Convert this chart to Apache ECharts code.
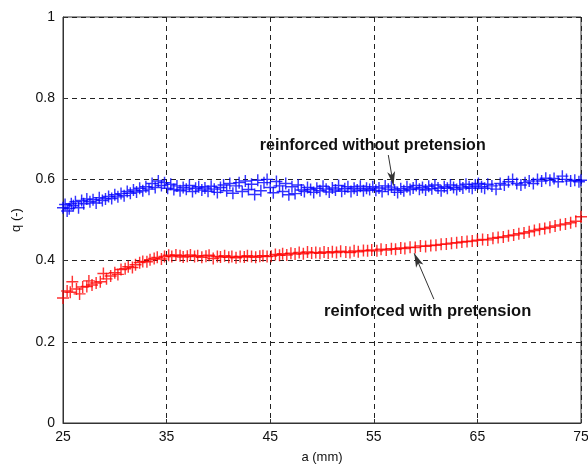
<!DOCTYPE html>
<html>
<head>
<meta charset="utf-8">
<script src="https://cdn.jsdelivr.net/npm/echarts@6/dist/echarts.min.js"></script>
<style>html,body{margin:0;padding:0;background:#fff}#c{width:588px;height:464px}</style>
</head>
<body>
<div id="c"></div>
<script>
// reinforced with pretension (red)
var redX = [25.0,25.4,25.7,25.9,26.3,26.6,26.9,27.3,27.5,27.8,28.2,28.6,28.9,29.2,29.6,30.0,30.3,30.6,31.0,31.3,31.7,32.0,32.4,32.7,33.1,33.4,33.8,34.1,34.5,34.8,35.2,35.5,35.9,36.3,36.6,37.0,37.3,37.7,38.0,38.4,38.8,39.1,39.5,39.9,40.2,40.6,41.0,41.3,41.7,42.1,42.5,42.8,43.2,43.6,44.0,44.3,44.7,45.1,45.5,45.9,46.2,46.6,47.0,47.4,47.8,48.2,48.6,49.0,49.4,49.8,50.2,50.6,51.0,51.4,51.8,52.3,52.7,53.1,53.5,54.0,54.4,54.8,55.3,55.7,56.2,56.7,57.1,57.6,58.0,58.5,59.0,59.5,60.0,60.5,61.0,61.5,62.0,62.5,63.0,63.5,64.0,64.5,65.0,65.5,66.0,66.5,67.0,67.5,68.0,68.5,69.0,69.5,70.0,70.5,71.0,71.5,72.0,72.5,73.0,73.5,74.0,74.5,75.0];
var redY = [0.308,0.325,0.322,0.348,0.330,0.318,0.335,0.336,0.350,0.340,0.345,0.348,0.368,0.355,0.362,0.370,0.366,0.378,0.380,0.385,0.383,0.390,0.395,0.398,0.397,0.402,0.405,0.408,0.404,0.410,0.413,0.410,0.414,0.412,0.409,0.411,0.414,0.410,0.412,0.408,0.411,0.413,0.405,0.410,0.409,0.412,0.408,0.410,0.407,0.410,0.409,0.412,0.410,0.408,0.411,0.412,0.410,0.411,0.415,0.413,0.417,0.414,0.418,0.416,0.420,0.417,0.421,0.419,0.420,0.418,0.421,0.419,0.422,0.420,0.423,0.421,0.420,0.424,0.422,0.425,0.424,0.426,0.424,0.428,0.426,0.429,0.428,0.431,0.430,0.433,0.432,0.436,0.435,0.437,0.438,0.440,0.441,0.443,0.444,0.446,0.447,0.448,0.450,0.452,0.451,0.455,0.457,0.458,0.461,0.463,0.466,0.468,0.471,0.474,0.477,0.479,0.482,0.485,0.488,0.490,0.493,0.497,0.508];
// reinforced without pretension (blue)
var blueX = [25.0,25.2,25.4,25.6,25.8,26.0,26.2,26.5,26.8,27.0,27.3,27.6,27.9,28.2,28.5,28.8,29.1,29.4,29.7,30.0,30.3,30.6,30.9,31.2,31.5,31.8,32.1,32.4,32.7,33.0,33.3,33.6,33.9,34.2,34.5,34.8,35.1,35.4,35.7,36.0,36.3,36.6,36.9,37.2,37.5,37.8,38.1,38.4,38.7,39.0,39.3,39.6,39.9,40.2,40.5,40.8,41.1,41.4,41.7,42.0,42.3,42.6,42.9,43.2,43.5,43.8,44.1,44.4,44.7,45.0,45.3,45.6,45.9,46.2,46.5,46.8,47.1,47.4,47.7,48.0,48.3,48.6,48.9,49.2,49.5,49.8,50.1,50.4,50.7,51.0,51.3,51.6,51.9,52.2,52.5,52.8,53.1,53.4,53.7,54.0,54.3,54.6,54.9,55.2,55.5,55.8,56.1,56.4,56.7,57.0,57.3,57.6,57.9,58.2,58.5,58.8,59.1,59.4,59.7,60.0,60.3,60.6,60.9,61.2,61.5,61.8,62.1,62.4,62.7,63.0,63.3,63.6,63.9,64.2,64.5,64.8,65.1,65.4,65.7,66.0,66.4,66.8,67.2,67.6,68.0,68.4,68.8,69.2,69.6,70.0,70.4,70.8,71.2,71.6,72.0,72.4,72.8,73.2,73.6,74.0,74.4,74.8,75.0];
var blueY = [0.530,0.538,0.522,0.528,0.540,0.535,0.545,0.530,0.548,0.540,0.552,0.545,0.550,0.542,0.555,0.548,0.552,0.558,0.553,0.562,0.557,0.565,0.560,0.570,0.566,0.574,0.569,0.578,0.572,0.582,0.576,0.590,0.580,0.596,0.585,0.592,0.578,0.588,0.575,0.584,0.572,0.580,0.576,0.585,0.570,0.578,0.582,0.574,0.579,0.571,0.583,0.576,0.568,0.580,0.586,0.572,0.590,0.566,0.584,0.592,0.570,0.596,0.575,0.588,0.563,0.598,0.572,0.592,0.600,0.580,0.567,0.595,0.584,0.570,0.590,0.562,0.582,0.565,0.586,0.574,0.570,0.580,0.575,0.568,0.578,0.572,0.583,0.576,0.569,0.579,0.574,0.585,0.571,0.577,0.582,0.570,0.578,0.574,0.583,0.572,0.578,0.575,0.582,0.573,0.579,0.570,0.584,0.576,0.581,0.574,0.568,0.577,0.572,0.582,0.575,0.579,0.585,0.576,0.580,0.574,0.583,0.577,0.586,0.579,0.572,0.582,0.578,0.586,0.580,0.575,0.584,0.579,0.588,0.582,0.578,0.586,0.590,0.582,0.578,0.588,0.584,0.576,0.590,0.586,0.594,0.600,0.590,0.586,0.592,0.596,0.590,0.600,0.596,0.603,0.598,0.602,0.594,0.608,0.600,0.596,0.598,0.594,0.598];

// annotations (data coordinates)
var noteBlueText = 'reinforced without pretension';
var noteBlueAt = [54.9, 0.683];
var arrowBlue = [[56.4, 0.660], [56.9, 0.585]];
var noteRedText = 'reinforced with pretension';
var noteRedAt = [60.2, 0.275];
var arrowRed = [[60.8, 0.305], [58.9, 0.418]];

function pairs(xs, ys) { return xs.map(function (x, i) { return [x, ys[i]]; }); }

var plus = 'path://M0,4.4H10V5.6H0Z M4.4,0H5.6V10H4.4Z';
var font = '"Liberation Sans", Arial, sans-serif';

var chart = echarts.init(document.getElementById('c'));
var axisCommon = {
  axisLine: { show: true, lineStyle: { color: '#333', width: 1 } },
  axisTick: { show: true, inside: true, length: 4, lineStyle: { color: '#333' } },
  splitLine: { show: true, lineStyle: { color: '#222', type: [5, 4], width: 1 } },
  axisLabel: { color: '#111', fontSize: 14, fontFamily: font },
  nameTextStyle: { color: '#111', fontSize: 13, fontFamily: font }
};
function noteLabel(txt, size) {
  return { show: true, position: 'inside', color: '#111', fontSize: size, fontWeight: 'bold', fontFamily: font, formatter: txt };
}
chart.setOption({
  animation: false,
  backgroundColor: '#fff',
  grid: { left: 63, right: 7, top: 17, bottom: 41, show: true, borderColor: '#333', borderWidth: 1, backgroundColor: 'transparent', containLabel: false, outerBoundsMode: 'none' },
  xAxis: Object.assign({}, axisCommon, {
    type: 'value', min: 25, max: 75, interval: 10,
    name: 'a (mm)', nameLocation: 'middle', nameGap: 28,
    axisLabel: Object.assign({}, axisCommon.axisLabel, { margin: 7 })
  }),
  yAxis: Object.assign({}, axisCommon, {
    type: 'value', min: 0, max: 1, interval: 0.2,
    name: 'q (-)', nameLocation: 'middle', nameGap: 40,
    axisLabel: Object.assign({}, axisCommon.axisLabel, { margin: 8 })
  }),
  series: [
    {
      type: 'scatter', name: 'without', data: pairs(blueX, blueY),
      symbol: plus, symbolSize: 12,
      itemStyle: { color: '#0000ff', opacity: 0.8 },
      markPoint: {
        symbol: 'rect', symbolSize: 1, silent: true,
        itemStyle: { color: 'rgba(255,255,255,0)' },
        label: noteLabel(noteBlueText, 16),
        data: [{ coord: noteBlueAt }]
      },
      markLine: {
        silent: true, symbol: ['none', 'arrow'], symbolSize: [6, 14],
        lineStyle: { color: '#333', width: 1, type: 'solid' },
        label: { show: false },
        data: [[{ coord: arrowBlue[0] }, { coord: arrowBlue[1] }]]
      }
    },
    {
      type: 'scatter', name: 'with', data: pairs(redX, redY),
      symbol: plus, symbolSize: 12,
      itemStyle: { color: '#ff0000', opacity: 0.8 },
      markPoint: {
        symbol: 'rect', symbolSize: 1, silent: true,
        itemStyle: { color: 'rgba(255,255,255,0)' },
        label: noteLabel(noteRedText, 16.5),
        data: [{ coord: noteRedAt }]
      },
      markLine: {
        silent: true, symbol: ['none', 'arrow'], symbolSize: [6, 14],
        lineStyle: { color: '#333', width: 1, type: 'solid' },
        label: { show: false },
        data: [[{ coord: arrowRed[0] }, { coord: arrowRed[1] }]]
      }
    }
  ]
});
</script>
</body>
</html>
